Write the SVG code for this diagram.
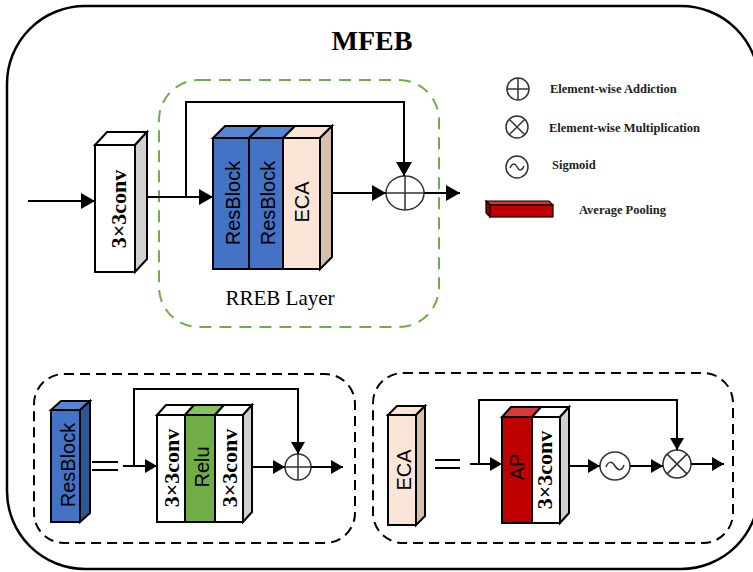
<svg xmlns="http://www.w3.org/2000/svg" width="753" height="572" viewBox="0 0 753 572">
<style>
.ln{fill:none;stroke:#000;stroke-width:2}
.bx{stroke:#000;stroke-width:2;stroke-linejoin:miter}
.op{fill:#fff;stroke:#333;stroke-width:1.5}
.opl{fill:none;stroke:#333;stroke-width:1.5}
.sans{font-family:"Liberation Sans",Arial,sans-serif;font-size:20px;fill:#000}
.conv{font-family:"Liberation Serif","Times New Roman",serif;font-weight:bold;font-size:22px;fill:#000}
.leg{font-family:"Liberation Serif","Times New Roman",serif;font-weight:bold;font-size:12.5px;fill:#222}
</style>
<defs>
<marker id="ah" viewBox="0 0 14 16" refX="14" refY="8" markerWidth="14" markerHeight="16" markerUnits="userSpaceOnUse" orient="auto"><path d="M0,0 L14,8 L0,16 Z" fill="#000"/></marker>
<marker id="as" viewBox="0 0 12 14" refX="12" refY="7" markerWidth="12" markerHeight="14" markerUnits="userSpaceOnUse" orient="auto"><path d="M0,0 L12,7 L0,14 Z" fill="#000"/></marker>
</defs>
<rect x="7" y="6" width="752" height="563" rx="78" fill="#fff" stroke="#000" stroke-width="2.5"/>
<text x="372" y="50" text-anchor="middle" font-family="Liberation Serif,'Times New Roman',serif" font-weight="bold" font-size="28">MFEB</text>

<g id="rreb-frame"><rect x="159" y="80" width="280" height="247" rx="40" fill="none" stroke="#70ad47" stroke-width="2" stroke-dasharray="12 8"/>
<text x="280" y="305" text-anchor="middle" font-family="Liberation Serif,'Times New Roman',serif" font-size="21">RREB Layer</text></g>
<g id="resblock-frame"><rect x="34" y="374" width="321" height="169" rx="30" fill="none" stroke="#000" stroke-width="2" stroke-dasharray="10 6"/></g>
<g id="eca-frame"><rect x="373" y="373" width="360" height="170" rx="30" fill="none" stroke="#000" stroke-width="2" stroke-dasharray="10 6"/></g>

<g id="conv-top">
<polygon class="bx" fill="#fff" points="95,145 107,132 147,132 135,145"/>
<polygon class="bx" fill="#d0d0d0" points="135,145 147,132 147,259 135,272"/>
<rect class="bx" fill="#fff" x="95" y="145" width="40" height="127"/>
<text class="conv" transform="translate(126,209) rotate(-90)" text-anchor="middle">3×3conv</text>
</g>

<g id="rreb-stack">
<polygon class="bx" fill="#5585d3" points="213,138 225,126 261,126 249,138"/>
<polygon class="bx" fill="#5585d3" points="249,138 261,126 295,126 283,138"/>
<polygon class="bx" fill="#fce4d6" points="283,138 295,126 332,126 320,138"/>
<polygon class="bx" fill="#d8c0ae" points="320,138 332,126 332,257 320,269"/>
<rect class="bx" fill="#4472c4" x="213" y="138" width="36" height="131"/>
<rect class="bx" fill="#4472c4" x="249" y="138" width="34" height="131"/>
<rect class="bx" fill="#fbe5d6" x="283" y="138" width="37" height="131"/>
<text class="sans" transform="translate(240,203) rotate(-90)" text-anchor="middle">ResBlock</text>
<text class="sans" transform="translate(275,203) rotate(-90)" text-anchor="middle">ResBlock</text>
<text class="sans" transform="translate(309,202) rotate(-90)" text-anchor="middle">ECA</text>
</g>

<g id="add-top">
<ellipse class="op" cx="405" cy="193" rx="19" ry="17"/>
<path class="opl" d="M386,193 H424 M405,176 V210"/>
</g>

<g id="legend">
<circle class="op" cx="518" cy="89" r="11"/>
<path class="opl" d="M507,89 H529 M518,78 V100"/>
<text class="leg" x="550" y="93">Element-wise Addiction</text>
<circle class="op" cx="517" cy="127" r="11"/>
<path class="opl" d="M509.2,119.2 L524.8,134.8 M524.8,119.2 L509.2,134.8"/>
<text class="leg" x="549" y="132">Element-wise Multiplication</text>
<circle class="op" cx="517" cy="167" r="11"/>
<path class="opl" d="M510,168 C512,163 515,163 517,167 C519,171 522,171 524,166"/>
<text class="leg" x="552" y="169">Sigmoid</text>
<polygon fill="#e03030" stroke="#000" stroke-width="1.2" points="486,201 549,201 553,205 490,205"/>
<polygon fill="#900000" stroke="#000" stroke-width="1.2" points="486,201 490,205 490,217 486,213"/>
<rect fill="#c00000" stroke="#000" stroke-width="1.2" x="490" y="205" width="63" height="12"/>
<text class="leg" x="579" y="214">Average Pooling</text>
</g>

<g id="resblock-small">
<polygon class="bx" fill="#5585d3" points="51,410 61,401 90,401 80,410"/>
<polygon class="bx" fill="#2f5597" points="80,410 90,401 90,513 80,522"/>
<rect class="bx" fill="#4472c4" x="51" y="410" width="29" height="112"/>
<text class="sans" transform="translate(75,465) rotate(-90)" text-anchor="middle">ResBlock</text>
</g>
<g id="eq1"><path class="ln" d="M92,462 H118 M92,470 H118"/></g>

<g id="resblock-inner">
<polygon class="bx" fill="#fff" points="157,415 166,405 194,405 185,415"/>
<polygon class="bx" fill="#86c25e" points="185,415 194,405 224,405 215,415"/>
<polygon class="bx" fill="#fff" points="215,415 224,405 252,405 243,415"/>
<polygon class="bx" fill="#d0d0d0" points="243,415 252,405 252,512 243,522"/>
<rect class="bx" fill="#fff" x="157" y="415" width="28" height="107"/>
<rect class="bx" fill="#70ad47" x="185" y="415" width="30" height="107"/>
<rect class="bx" fill="#fff" x="215" y="415" width="28" height="107"/>
<text class="conv" transform="translate(179,468) rotate(-90)" text-anchor="middle">3×3conv</text>
<text class="sans" transform="translate(209,467) rotate(-90)" text-anchor="middle">Relu</text>
<text class="conv" transform="translate(237,468) rotate(-90)" text-anchor="middle">3×3conv</text>
</g>
<g id="add-small">
<circle class="op" cx="298" cy="467" r="13"/>
<path class="opl" d="M285,467 H311 M298,454 V480"/>
</g>

<g id="eca-small">
<polygon class="bx" fill="#fce4d6" points="388,415 397,406 425,406 416,415"/>
<polygon class="bx" fill="#d8c0ae" points="416,415 425,406 425,516 416,525"/>
<rect class="bx" fill="#fbe5d6" x="388" y="415" width="28" height="110"/>
<text class="sans" transform="translate(411,470) rotate(-90)" text-anchor="middle">ECA</text>
</g>
<g id="eq2"><path class="ln" d="M435,460 H460 M435,468 H460"/></g>

<g id="eca-inner">
<polygon class="bx" fill="#d83a3a" points="502,417 511,407 541,407 532,417"/>
<polygon class="bx" fill="#fff" points="532,417 541,407 569,407 560,417"/>
<polygon class="bx" fill="#d0d0d0" points="560,417 569,407 569,513 560,523"/>
<rect class="bx" fill="#c00000" x="502" y="417" width="30" height="106"/>
<rect class="bx" fill="#fff" x="532" y="417" width="28" height="106"/>
<text class="sans" transform="translate(524,467) rotate(-90)" text-anchor="middle">AP</text>
<text class="conv" transform="translate(552,470) rotate(-90)" text-anchor="middle">3×3conv</text>
</g>
<g id="sigmoid-small">
<ellipse class="op" cx="615" cy="466" rx="15" ry="14"/>
<path class="opl" d="M606,467 C608,461 612,461 615,466 C618,471 622,471 624,465"/>
</g>
<g id="mul-small">
<circle class="op" cx="677" cy="464" r="14"/>
<path class="opl" d="M667.1,454.1 L686.9,473.9 M686.9,454.1 L667.1,473.9"/>
</g>

<g id="connectors">
<path class="ln" d="M28,201 H95" marker-end="url(#ah)"/>
<path class="ln" d="M147,197 H213" marker-end="url(#ah)"/>
<path class="ln" d="M186,197 V102 H404 V176" marker-end="url(#ah)"/>
<path class="ln" d="M332,193 H386" marker-end="url(#ah)"/>
<path class="ln" d="M424,193 H460" marker-end="url(#ah)"/>
<path class="ln" d="M123,466 H157" marker-end="url(#as)"/>
<path class="ln" d="M134,466 V389 H298 V454" marker-end="url(#as)"/>
<path class="ln" d="M252,467 H285" marker-end="url(#as)"/>
<path class="ln" d="M311,467 H343" marker-end="url(#as)"/>
<path class="ln" d="M470,464 H502" marker-end="url(#as)"/>
<path class="ln" d="M479,464 V400 H677 V450" marker-end="url(#as)"/>
<path class="ln" d="M568,466 H600" marker-end="url(#as)"/>
<path class="ln" d="M630,466 H663" marker-end="url(#as)"/>
<path class="ln" d="M691,464 H724" marker-end="url(#as)"/>
</g>
</svg>
